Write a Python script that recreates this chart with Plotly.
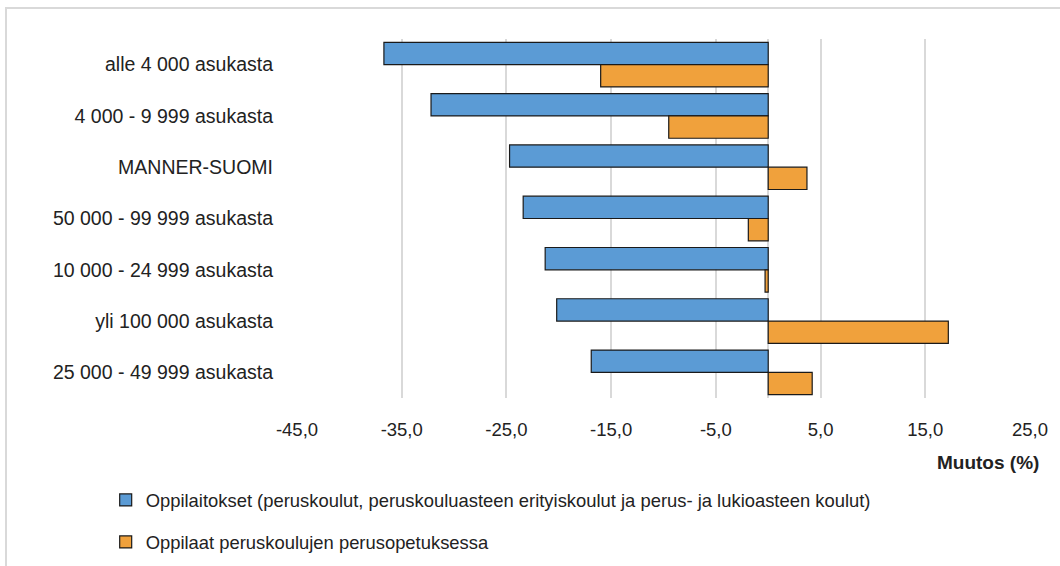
import plotly.graph_objects as go

categories = [
    "alle 4 000 asukasta",
    "4 000 - 9 999 asukasta",
    "MANNER-SUOMI",
    "50 000 - 99 999 asukasta",
    "10 000 - 24 999 asukasta",
    "yli 100 000 asukasta",
    "25 000 - 49 999 asukasta",
]
oppilaitokset = [-36.7, -32.2, -24.7, -23.4, -21.3, -20.2, -16.9]
oppilaat = [-16.0, -9.5, 3.7, -1.9, -0.3, 17.2, 4.2]

name1 = "Oppilaitokset (peruskoulut, peruskouluasteen erityiskoulut ja perus- ja lukioasteen koulut)"
name2 = "Oppilaat peruskoulujen perusopetuksessa"
tick_vals = [-45, -35, -25, -15, -5, 5, 15, 25]
tick_text = ["-45,0", "-35,0", "-25,0", "-15,0", "-5,0", "5,0", "15,0", "25,0"]

FONT = "Liberation Sans, Arial, sans-serif"

fig = go.Figure()
fig.add_trace(go.Bar(
    y=categories, x=oppilaitokset, orientation="h", name=name1,
    marker=dict(color="#5B9BD5", line=dict(color="#1a1a1a", width=1.2)),
    legend="legend",
))
fig.add_trace(go.Bar(
    y=categories, x=oppilaat, orientation="h", name=name2,
    marker=dict(color="#F0A13C", line=dict(color="#1a1a1a", width=1.2)),
    legend="legend2",
))

fig.update_layout(
    width=1060, height=566,
    margin=dict(l=297, r=30, t=39, b=168, autoexpand=False),
    paper_bgcolor="white", plot_bgcolor="white",
    font=dict(family=FONT, size=18, color="#222222"),
    barmode="group", bargap=0.13, bargroupgap=0,
    showlegend=True,
    legend=dict(x=-0.261, y=-0.284, xanchor="left", yanchor="middle",
                font=dict(size=18.4), bgcolor="rgba(0,0,0,0)"),
    legend2=dict(x=-0.261, y=-0.401, xanchor="left", yanchor="middle",
                 font=dict(size=18.4), bgcolor="rgba(0,0,0,0)"),
    xaxis=dict(
        range=[-45, 25], tickmode="array", tickvals=tick_vals, ticktext=tick_text,
        showgrid=True, gridcolor="#D9D9D9", gridwidth=1.5,
        zeroline=True, zerolinecolor="#D9D9D9", zerolinewidth=1.5,
        showline=False, ticks="", ticklabelstandoff=18,
        tickfont=dict(size=18.5),
    ),
    yaxis=dict(
        autorange="reversed", showgrid=False, showline=False, zeroline=False,
        ticks="", ticklabelstandoff=23, tickfont=dict(size=19.5),
    ),
    annotations=[dict(
        text="<b>Muutos (%)</b>", xref="paper", yref="paper",
        x=1.0148, y=-0.181, xanchor="right", yanchor="middle",
        showarrow=False, font=dict(size=19, family=FONT, color="#222222"),
    )],
    shapes=[
        dict(type="line", xref="paper", yref="paper",
             x0=(5 - 297) / 733, x1=(1060 - 297) / 733,
             y0=(398 - 8) / 359, y1=(398 - 8) / 359,
             line=dict(color="#D9D9D9", width=2)),
        dict(type="line", xref="paper", yref="paper",
             x0=(6 - 297) / 733, x1=(6 - 297) / 733,
             y0=(398 - 8) / 359, y1=-0.6,
             line=dict(color="#D9D9D9", width=2)),
    ],
)

fig.write_html("out.html", config={"displayModeBar": False},
               post_script="document.body.style.margin='0';")
